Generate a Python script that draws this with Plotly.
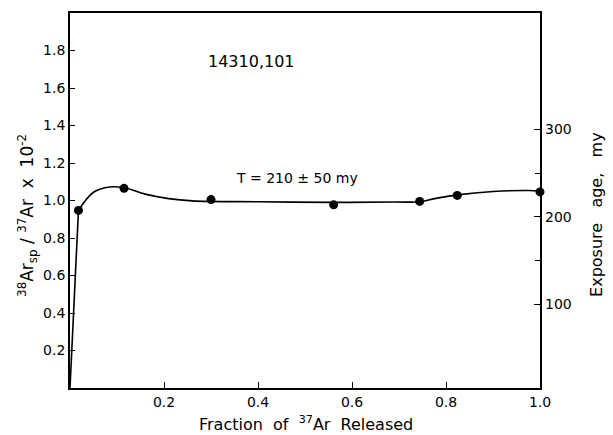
import plotly.graph_objects as go

# Measured points
pts_x = [0.018, 0.115, 0.300, 0.561, 0.744, 0.824, 1.0]
pts_y = [0.947, 1.065, 1.005, 0.977, 0.995, 1.027, 1.046]

# Initial steep rise
rise_x = [0.0, 0.018]
rise_y = [0.0, 0.947]

# Smooth curve drawn through the data
curve_x = [0.018, 0.05, 0.085, 0.115, 0.16, 0.21, 0.26, 0.40, 0.56, 0.69, 0.744, 0.776, 0.824, 0.90, 0.976, 1.0]
curve_y = [0.947, 1.044, 1.072, 1.068, 1.034, 1.010, 0.998, 0.993, 0.990, 0.992, 0.993, 1.010, 1.030, 1.048, 1.053, 1.050]

left_ticks = [0.2, 0.4, 0.6, 0.8, 1.0, 1.2, 1.4, 1.6, 1.8]
left_labels = ["0.2", "0.4", "0.6", "0.8", "1.0", "1.2", "1.4", "1.6", "1.8"]
x_ticks = [0.2, 0.4, 0.6, 0.8, 1.0]
x_labels = ["0.2", "0.4", "0.6", "0.8", "1.0"]
right_ticks = [100, 200, 300]
right_labels = ["100", "200", "300"]
right_minor = [150, 250]

FONT = "DejaVu Sans"

fig = go.Figure()
fig.add_trace(go.Scatter(x=rise_x, y=rise_y, mode="lines",
                         line=dict(color="black", width=1.6), showlegend=False))
fig.add_trace(go.Scatter(x=curve_x, y=curve_y, mode="lines",
                         line=dict(color="black", width=1.6, shape="spline", smoothing=1.0),
                         showlegend=False))
fig.add_trace(go.Scatter(x=pts_x, y=pts_y, mode="markers",
                         marker=dict(color="black", size=9), showlegend=False, cliponaxis=False))
# invisible trace for right axis
fig.add_trace(go.Scatter(x=[0.5], y=[200], mode="markers", yaxis="y2",
                         marker=dict(opacity=0), showlegend=False, hoverinfo="skip"))

fig.update_layout(
    width=613, height=435,
    margin=dict(l=70, r=73, t=11, b=47),
    paper_bgcolor="white", plot_bgcolor="white",
    font=dict(family=FONT, color="black", size=14),
    xaxis=dict(range=[0, 1.0], tickvals=x_ticks, ticktext=x_labels,
               ticks="inside", ticklen=6, tickwidth=1.3, tickcolor="black",
               showline=True, linecolor="black", linewidth=1.8, mirror=True,
               showgrid=False, zeroline=False, tickfont=dict(size=14)),
    yaxis=dict(range=[0, 2.0], tickvals=left_ticks, ticktext=left_labels,
               ticks="inside", ticklen=5, tickwidth=1.3, tickcolor="black",
               showline=True, linecolor="black", linewidth=1.8, mirror=True,
               showgrid=False, zeroline=False, tickfont=dict(size=14), ticklabelstandoff=0),
    yaxis2=dict(range=[4.5, 433], overlaying="y", side="right",
                tickvals=right_ticks, ticktext=right_labels,
                ticks="inside", ticklen=6, tickwidth=1.3, tickcolor="black",
                minor=dict(tickvals=right_minor, ticks="inside", ticklen=5, tickwidth=1.3, tickcolor="black"),
                showline=False, showgrid=False, zeroline=False, tickfont=dict(size=14),
                ticklabelstandoff=4),
    annotations=[
        dict(text="14310,101", xref="paper", yref="paper",
             x=(251 - 70) / 470, y=(388 - 60) / 377, showarrow=False,
             xanchor="center", yanchor="middle", font=dict(size=16)),
        dict(text="T = 210 ± 50 my", xref="paper", yref="paper",
             x=(297 - 70) / 470, y=(388 - 177) / 377, showarrow=False,
             xanchor="center", yanchor="middle", font=dict(size=14)),
        dict(text="<sup>38</sup>Ar<sub>sp</sub> / <sup>37</sup>Ar  x  10<sup>-2</sup>",
             xref="paper", yref="paper", x=(28 - 70) / 470, y=(388 - 215) / 377,
             xanchor="center", yanchor="middle",
             textangle=-90, showarrow=False, font=dict(size=17)),
        dict(text="Exposure   age,   my", xref="paper", yref="paper",
             x=(597 - 70) / 470, y=(388 - 214) / 377, textangle=-90,
             xanchor="center", yanchor="middle",
             showarrow=False, font=dict(size=16)),
        dict(text="Fraction  of  <sup>37</sup>Ar  Released", xref="paper", yref="paper",
             x=(306 - 70) / 470, y=(388 - 424) / 377, showarrow=False,
             xanchor="center", yanchor="middle", font=dict(size=16)),
    ],
)

fig.write_html("out.html")
